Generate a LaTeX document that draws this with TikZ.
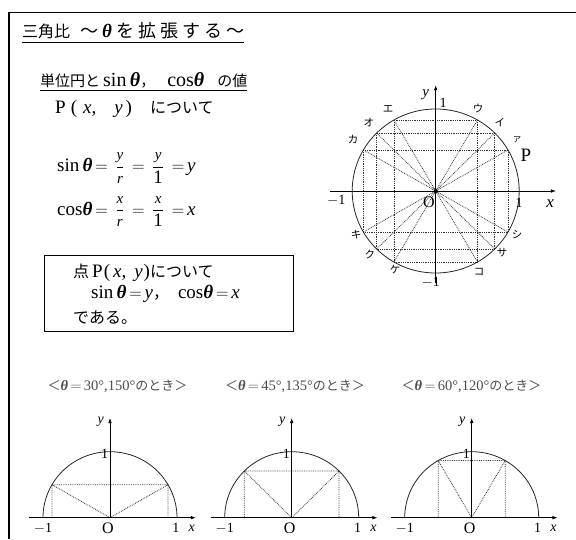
\documentclass[tikz,border=0pt]{standalone}
\usepackage{fontspec}
\setmainfont{Liberation Serif}
\newfontfamily\jp{Noto Sans CJK JP}
\usetikzlibrary{arrows.meta}
\newcommand{\myth}{{\rmfamily\bfseries\itshape θ}}
\newcommand{\myx}{{\rmfamily\itshape x}}
\newcommand{\myy}{{\rmfamily\itshape y}}
\newcommand{\myr}{{\rmfamily\itshape r}}
\newcommand{\J}[1]{{\fontsize{16}{18}\selectfont\jp #1}}
\newcommand{\Js}[1]{{\fontsize{15}{17}\selectfont\jp #1}}
\newcommand{\sm}[1]{\mbox{\fontsize{15}{16}\selectfont #1}}
\tikzset{
  txt/.style={anchor=base west, inner sep=0pt},
  big/.style={font=\fontsize{19}{21}\selectfont},
  lbl/.style={inner sep=0pt, font=\fontsize{13}{14}\selectfont},
  kana/.style={inner sep=0pt, font=\fontsize{10.5}{11}\selectfont\jp},
  axis/.style={-{Latex[length=5pt,width=3.5pt]}, line width=0.6pt},
  dots/.style={densely dotted, line width=0.8pt, black!80},
  curve/.style={line width=0.8pt, black!85},
  ptitle/.style={inner sep=0pt, text=black!70, font=\fontsize{14.5}{16}\selectfont}
}
\begin{document}
\begin{tikzpicture}[x=1pt,y=-1pt]
\useasboundingbox (0,0) rectangle (576,539);
% frame
\draw[line width=1.3pt] (576,12.7) -- (9,12.7) -- (9,539);
% title
\node[txt] (title) at (22,37) {{\fontsize{16}{18}\selectfont\jp 三角比}\kern10pt{\fontsize{18}{20}\selectfont\jp ～\kern4pt{\fontsize{19}{20}\selectfont\myth}\kern4pt を\kern4pt 拡\kern4pt 張\kern4pt す\kern4pt る\kern4pt ～}};
\draw[line width=0.7pt] ([yshift=-5pt]title.base west) -- ([yshift=-5pt]title.base east);
% subtitle
\node[txt, font=\fontsize{20}{22}\selectfont] (sub) at (40,86) {\Js{単位円と}\kern3pt sin\,\myth\Js{，}\kern12pt cos\myth\kern13pt\Js{の値}};
\draw[line width=0.7pt] ([yshift=-4.5pt]sub.base west) -- ([yshift=-4.5pt]sub.base east);
\node[txt, big] (pxy) at (55,113) {P\kern5pt(\kern6pt\myx,\kern18pt\myy\kern3pt)\kern18pt\J{について}};
% formulas
\node[txt, big] (sinl) at (57,171.5) {sin\,\myth$\displaystyle\,=\,\frac{\sm{\myy}}{\sm{\myr}}\,=\,\frac{\sm{\myy}}{\mbox{1}}\,=\,$\myy};
\node[txt, big] (cosl) at (57,215) {cos\myth$\displaystyle\,=\,\frac{\sm{\myx}}{\sm{\myr}}\,=\,\frac{\sm{\myx}}{\mbox{1}}\,=\,$\myx};
% box
\node[draw, line width=0.7pt, anchor=north west, minimum width=249pt, minimum height=76pt, inner sep=0pt] (box) at (44,255) {};
\node[txt, big] (b1) at (73,277) {\J{点}\kern3pt P\kern1pt(\kern3pt\myx,\kern8pt\myy\kern1pt)\J{について}};
\node[txt, big] (b2) at (91,298) {sin\,\myth$\,=\,$\myy\J{，}\kern9pt cos\myth$\,=\,$\myx};
\node[txt] (b3) at (73,323) {\J{である。}};
% big unit circle
\begin{scope}[shift={(435.7pt,-191pt)}, x=83.5pt, y=82pt]
  \coordinate (O) at (0,0);
  \foreach \a in {30,45,60,120,135,150,210,225,240,300,315,330} {\coordinate (p\a) at (\a:1);}
  \foreach \u/\v in {30/210,45/225,60/240,120/300,135/315,150/330,
                    60/120,45/135,30/150,240/300,225/315,210/330,
                    60/300,45/315,30/330,120/240,135/225,150/210}
    {\draw[dots] (p\u) -- (p\v);}
  \coordinate (xl) at (-1.26,0); \coordinate (xr) at (1.44,0);
  \coordinate (yb) at (0,-1.12); \coordinate (yt) at (0,1.29);
  \draw[axis] (xl) -- (xr);
  \draw[axis] (yb) -- (yt);
  \draw[curve] (O) ellipse [x radius=83.5pt, y radius=82pt];
  \fill (O) circle (2pt);
  \node[lbl, font=\fontsize{15}{16}\selectfont\itshape] (ylab) at (-0.12,1.17) {y};
  \node[lbl, font=\fontsize{14}{15}\selectfont] (one1) at (0.09,1.07) {1};
  \node[lbl, font=\fontsize{14}{15}\selectfont] (mone1) at (-1.19,-0.11) {$-$1};
  \node[lbl, font=\fontsize{16}{17}\selectfont] (olab) at (-0.08,-0.14) {O};
  \node[lbl, font=\fontsize{14}{15}\selectfont] (one2) at (1.0,-0.15) {1};
  \node[lbl, font=\fontsize{17}{18}\selectfont\itshape] (xlab) at (1.37,-0.15) {x};
  \node[lbl, font=\fontsize{14}{15}\selectfont] (mone2) at (-0.06,-1.11) {$-$1};
  \node[lbl, font=\fontsize{19}{20}\selectfont] (P) at (1.08,0.44) {P};
  \node[kana, font=\fontsize{8}{9}\selectfont\jp] (k1) at (0.974,0.63) {ア};
  \node[kana] (k2) at (0.770,0.829) {イ};
  \node[kana] (k3) at (0.507,1.012) {ウ};
  \node[kana] (k4) at (-0.571,1.0) {エ};
  \node[kana] (k5) at (-0.799,0.829) {オ};
  \node[kana] (k6) at (-0.990,0.622) {カ};
  \node[kana] (k7) at (-0.954,-0.537) {キ};
  \node[kana] (k8) at (-0.787,-0.780) {ク};
  \node[kana] (k9) at (-0.487,-0.963) {ケ};
  \node[kana] (k10) at (0.519,-0.988) {コ};
  \node[kana] (k11) at (0.794,-0.756) {サ};
  \node[kana] (k12) at (0.974,-0.537) {シ};
\end{scope}
% bottom panels
\foreach \cx/\tcx/\ang/\i/\tx in {110/117.5/30/1/{30°,150°}, 291.7/295/45/2/{45°,135°}, 471.7/471.5/60/3/{60°,120°}} {
  \node[ptitle] (pt\i) at (\tcx,386.7) {{\fontsize{13}{14}\selectfont\jp ＜}\myth$\,=\,$\tx{\fontsize{13}{14}\selectfont\jp のとき＞}};
  \begin{scope}[shift={(\cx pt,-517.7pt)}, x=67pt, y=66pt]
    \coordinate (o\i) at (0,0);
    \coordinate (xl\i) at (-1.21,0); \coordinate (xr\i) at (1.28,0);
    \coordinate (yt\i) at (0,1.51);
    \coordinate (a\i) at (\ang:1);
    \coordinate (b\i) at ({180-\ang}:1);
    \coordinate (e\i) at (1,0);
    \draw[dots] (o\i) -- (a\i) (o\i) -- (b\i) (a\i) -- (b\i)
                (a\i) -- (a\i |- o\i) (b\i) -- (b\i |- o\i);
    \draw[axis] (xl\i) -- (xr\i);
    \draw[axis] (o\i) -- (yt\i);
    \draw[curve] (e\i) arc[start angle=0, end angle=180, x radius=67pt, y radius=66pt];
    \node[lbl, font=\fontsize{14}{15}\selectfont\itshape] (yl\i) at (-0.14,1.45) {y};
    \node[lbl, font=\fontsize{14}{15}\selectfont] (on\i) at (-0.08,0.97) {1};
    \node[lbl, font=\fontsize{14}{15}\selectfont] (mo\i) at (-1.0,-0.16) {$-$1};
    \node[lbl, font=\fontsize{16}{17}\selectfont] (ol\i) at (-0.03,-0.16) {O};
    \node[lbl, font=\fontsize{14}{15}\selectfont] (ox\i) at (0.985,-0.16) {1};
    \node[lbl, font=\fontsize{14}{15}\selectfont\itshape] (xx\i) at (1.22,-0.16) {x};
  \end{scope}
}
\end{tikzpicture}
\end{document}
